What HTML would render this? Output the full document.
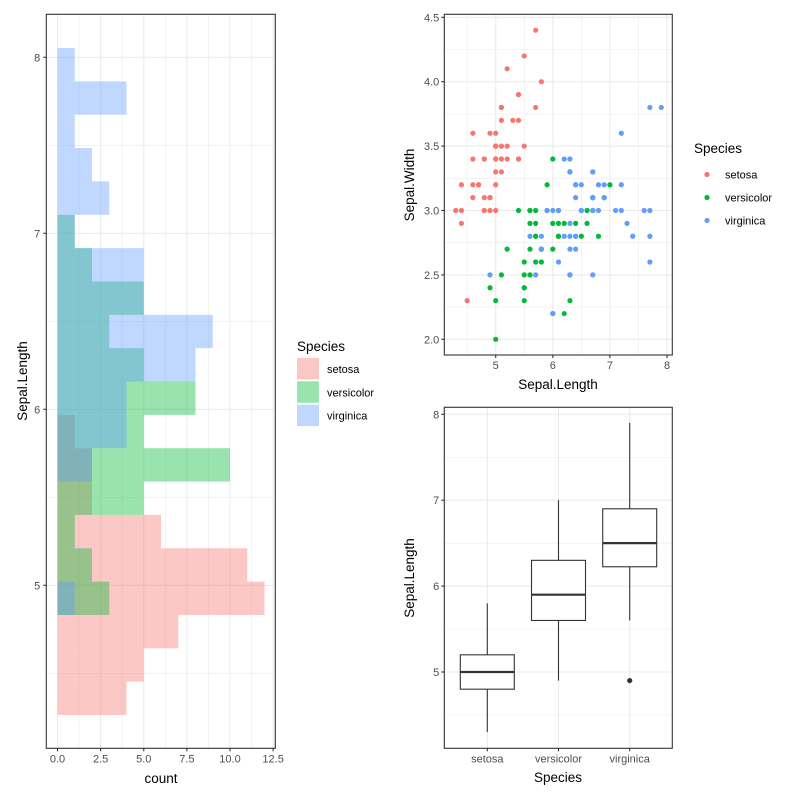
<!DOCTYPE html>
<html><head><meta charset="utf-8"><style>
html,body{margin:0;padding:0;background:#fff}
svg{display:block;font-family:"Liberation Sans",Arial,sans-serif}
</style></head><body>
<svg id="chart" width="800" height="800" viewBox="0 0 800 800" xmlns="http://www.w3.org/2000/svg"></svg>
<script>
const species = ["setosa","versicolor","virginica"];
const colors = ["#F8766D","#00BA38","#619CFF"];
const setosaSL = [5.1,4.9,4.7,4.6,5.0,5.4,4.6,5.0,4.4,4.9,5.4,4.8,4.8,4.3,5.8,5.7,5.4,5.1,5.7,5.1,5.4,5.1,4.6,5.1,4.8,5.0,5.0,5.2,5.2,4.7,4.8,5.4,5.2,5.5,4.9,5.0,5.5,4.9,4.4,5.1,5.0,4.5,4.4,5.0,5.1,4.8,5.1,4.6,5.3,5.0];
const setosaSW = [3.5,3.0,3.2,3.1,3.6,3.9,3.4,3.4,2.9,3.1,3.7,3.4,3.0,3.0,4.0,4.4,3.9,3.5,3.8,3.8,3.4,3.7,3.6,3.3,3.4,3.0,3.4,3.5,3.4,3.2,3.1,3.4,4.1,4.2,3.1,3.2,3.5,3.6,3.0,3.4,3.5,2.3,3.2,3.5,3.8,3.0,3.8,3.2,3.7,3.3];
const versiSL = [7.0,6.4,6.9,5.5,6.5,5.7,6.3,4.9,6.6,5.2,5.0,5.9,6.0,6.1,5.6,6.7,5.6,5.8,6.2,5.6,5.9,6.1,6.3,6.1,6.4,6.6,6.8,6.7,6.0,5.7,5.5,5.5,5.8,6.0,5.4,6.0,6.7,6.3,5.6,5.5,5.5,6.1,5.8,5.0,5.6,5.7,5.7,6.2,5.1,5.7];
const versiSW = [3.2,3.2,3.1,2.3,2.8,2.8,3.3,2.4,2.9,2.7,2.0,3.0,2.2,2.9,2.9,3.1,3.0,2.7,2.2,2.5,3.2,2.8,2.5,2.8,2.9,3.0,2.8,3.0,2.9,2.6,2.4,2.4,2.7,2.7,3.0,3.4,3.1,2.3,3.0,2.5,2.6,3.0,2.6,2.3,2.7,3.0,2.9,2.9,2.5,2.8];
const virgSL = [6.3,5.8,7.1,6.3,6.5,7.6,4.9,7.3,6.7,7.2,6.5,6.4,6.8,5.7,5.8,6.4,6.5,7.7,7.7,6.0,6.9,5.6,7.7,6.3,6.7,7.2,6.2,6.1,6.4,7.2,7.4,7.9,6.4,6.3,6.1,7.7,6.3,6.4,6.0,6.9,6.7,6.9,5.8,6.8,6.7,6.7,6.3,6.5,6.2,5.9];
const virgSW = [3.3,2.7,3.0,2.9,3.0,3.0,2.5,2.9,2.5,3.6,3.2,2.7,3.0,2.5,2.8,3.2,3.0,3.8,2.6,2.2,3.2,2.8,2.8,2.7,3.3,3.2,2.8,3.0,2.8,3.0,2.8,3.8,2.8,2.8,2.6,3.0,3.4,3.1,3.0,3.1,3.1,3.1,2.7,3.2,3.3,3.0,2.5,3.0,3.4,3.0];
const histXTicks = [0,2.5,5,7.5,10,12.5];
const histXTickLabels = ["0.0","2.5","5.0","7.5","10.0","12.5"];
const slTicks = [5,6,7,8];
const swTicks = [2.0,2.5,3.0,3.5,4.0,4.5];
const swTickLabels = ["2.0","2.5","3.0","3.5","4.0","4.5"];
const scXTicks = [5,6,7,8];
const histBins = 20;

const SL = [setosaSL, versiSL, virgSL];
const SW = [setosaSW, versiSW, virgSW];
const svg = document.getElementById('chart');
const NS = "http://www.w3.org/2000/svg";
function el(tag, attrs, parent, text){
  const e = document.createElementNS(NS, tag);
  for (const k in attrs) e.setAttribute(k, attrs[k]);
  if (text !== undefined) e.textContent = text;
  (parent||svg).appendChild(e);
  return e;
}
function lineV(g,x,y1,y2,c,w){ return el('line',{x1:x,x2:x,y1:y1,y2:y2,stroke:c,'stroke-width':w},g); }
function lineH(g,y,x1,x2,c,w){ return el('line',{x1:x1,x2:x2,y1:y,y2:y,stroke:c,'stroke-width':w},g); }
const GRID="#EBEBEB", AX="#333333", TXT="#4D4D4D";

// ===== Histogram =====
const allSL = [].concat(...SL);
const mn = Math.min(...allSL), mx = Math.max(...allSL);
const bw = (mx-mn)/(histBins-1);
const origin = bw/2 + Math.floor((mn - bw/2)/bw)*bw;
const edges = []; for (let k=0;k<=histBins;k++) edges.push(origin + k*bw);
const hx = v => 57.5 + v*17.25;
const hy = v => 585.3 - (v-5)*176;
const hL=46.3,hR=275.3,hT=14.3,hB=748.3;
const gH = el('g',{});  
for (let v=1.25; v<13; v+=2.5) lineV(gH,hx(v),hT,hB,GRID,0.6);
for (let v=4.5; v<8.3; v+=1) lineH(gH,hy(v),hL,hR,GRID,0.6);
histXTicks.forEach(v=>lineV(gH,hx(v),hT,hB,GRID,1.1));
slTicks.forEach(v=>lineH(gH,hy(v),hL,hR,GRID,1.1));
SL.forEach((arr,si)=>{
  for (let k=0;k<histBins;k++){
    const lo=edges[k], hi=edges[k+1];
    const c = arr.filter(v=> k===0 ? (v>=lo-1e-9 && v<=hi+1e-9) : (v>lo+1e-9 && v<=hi+1e-9)).length;
    if (!c) continue;
    const r = el('rect',{x:hx(0),y:hy(hi),width:hx(c)-hx(0),height:hy(lo)-hy(hi),fill:colors[si],'fill-opacity':0.4},gH);
    
    
  }
});
el('rect',{x:hL,y:hT,width:hR-hL,height:hB-hT,fill:'none',stroke:AX,'stroke-width':1.1},gH);
histXTicks.forEach((v,i)=>{ lineV(gH,hx(v),hB,hB+3,AX,1.1);
  el('text',{x:hx(v),y:hB+14,'text-anchor':'middle','font-size':11,fill:TXT},gH,histXTickLabels[i]); });
slTicks.forEach(v=>{ lineH(gH,hy(v),hL-3,hL,AX,1.1);
  el('text',{x:hL-6,y:hy(v)+4,'text-anchor':'end','font-size':11,fill:TXT},gH,String(v)); });
const t1=el('text',{x:161,y:783,'text-anchor':'middle','font-size':13.5,fill:'#000'},gH,'count');
 
const t2=el('text',{x:27,y:381,'text-anchor':'middle','font-size':13.5,fill:'#000',transform:'rotate(-90 27 381)'},gH,'Sepal.Length');
 
// legend left
const gL = el('g',{});  
el('text',{x:297,y:351,'font-size':13.5,fill:'#000'},gL,'Species');
species.forEach((s,i)=>{
  const y0 = 358 + i*23.3;
  el('rect',{x:297,y:y0,width:22,height:21.5,fill:colors[i],'fill-opacity':0.4},gL);
  el('text',{x:327,y:y0+15,'font-size':11,fill:'#000'},gL,s);
});

// ===== Scatter =====
const sx = v => 495.7 + (v-5)*57.1;
const sy = v => 339.3 - (v-2)*128.8;
const sL=444.3,sR=672.3,sT=14.3,sB=355;
const gS = el('g',{});  
for (let v=4.5; v<8.1; v+=1) lineV(gS,sx(v),sT,sB,GRID,0.6);
for (let v=2.25; v<4.5; v+=0.5) lineH(gS,sy(v),sL,sR,GRID,0.6);
scXTicks.forEach(v=>lineV(gS,sx(v),sT,sB,GRID,1.1));
swTicks.forEach(v=>lineH(gS,sy(v),sL,sR,GRID,1.1));
SL.forEach((arr,si)=>arr.forEach((v,j)=>{
  const c=el('circle',{cx:sx(v),cy:sy(SW[si][j]),r:2.6,fill:colors[si]},gS);
  
  
}));
el('rect',{x:sL,y:sT,width:sR-sL,height:sB-sT,fill:'none',stroke:AX,'stroke-width':1.1},gS);
scXTicks.forEach(v=>{ lineV(gS,sx(v),sB,sB+3,AX,1.1);
  el('text',{x:sx(v),y:sB+14,'text-anchor':'middle','font-size':11,fill:TXT},gS,String(v)); });
swTicks.forEach((v,i)=>{ lineH(gS,sy(v),sL-3,sL,AX,1.1);
  el('text',{x:sL-5,y:sy(v)+4,'text-anchor':'end','font-size':11,fill:TXT},gS,swTickLabels[i]); });
const t3=el('text',{x:558,y:389,'text-anchor':'middle','font-size':13.5,fill:'#000'},gS,'Sepal.Length');
 
const t4=el('text',{x:414,y:185,'text-anchor':'middle','font-size':13.5,fill:'#000',transform:'rotate(-90 414 185)'},gS,'Sepal.Width');
 
const gL2 = el('g',{});  
el('text',{x:694,y:153,'font-size':13.5,fill:'#000'},gL2,'Species');
species.forEach((s,i)=>{
  const y0 = 174.5 + i*23;
  el('circle',{cx:707,cy:y0,r:2.6,fill:colors[i]},gL2);
  el('text',{x:725,y:y0+4,'font-size':11,fill:'#000'},gL2,s);
});

// ===== Boxplot =====
const bx = i => 487.3 + i*71.2;
const by = v => 672 - (v-5)*85.9;
const bL=444.3,bR=672.3,bT=407.3,bB=748.3;
function q(a,p){ const s=[...a].sort((x,y)=>x-y); const h=(s.length-1)*p; const lo=Math.floor(h); return s[lo]+(h-lo)*((s[lo+1]??s[lo])-s[lo]); }
const gB = el('g',{});  
for (let v=4.5; v<8; v+=1) lineH(gB,by(v),bL,bR,GRID,0.6);
slTicks.forEach(v=>lineH(gB,by(v),bL,bR,GRID,1.1));
species.forEach((s,i)=>lineV(gB,bx(i),bT,bB,GRID,1.1));
SL.forEach((arr,i)=>{
  const q1=q(arr,0.25), md=q(arr,0.5), q3=q(arr,0.75), iqr=q3-q1;
  const inl = arr.filter(v=>v>=q1-1.5*iqr && v<=q3+1.5*iqr);
  const lo=Math.min(...inl), hi=Math.max(...inl);
  const g = el('g',{},gB);  
  const hw=27;
  lineV(g,bx(i),by(hi),by(q3),AX,1.1);
  lineV(g,bx(i),by(q1),by(lo),AX,1.1);
  el('rect',{x:bx(i)-hw,y:by(q3),width:2*hw,height:by(q1)-by(q3),fill:'#fff',stroke:AX,'stroke-width':1.1},g);
  lineH(g,by(md),bx(i)-hw,bx(i)+hw,AX,2.2);
  arr.filter(v=>v<lo||v>hi).forEach(v=>{
    const o=el('circle',{cx:bx(i),cy:by(v),r:2.6,fill:AX},g);
    
    
  });
});
el('rect',{x:bL,y:bT,width:bR-bL,height:bB-bT,fill:'none',stroke:AX,'stroke-width':1.1},gB);
species.forEach((s,i)=>{ lineV(gB,bx(i),bB,bB+3,AX,1.1);
  el('text',{x:bx(i),y:bB+14,'text-anchor':'middle','font-size':11,fill:TXT},gB,s); });
slTicks.forEach(v=>{ lineH(gB,by(v),bL-3,bL,AX,1.1);
  el('text',{x:bL-5,y:by(v)+4,'text-anchor':'end','font-size':11,fill:TXT},gB,String(v)); });
const t5=el('text',{x:558,y:782,'text-anchor':'middle','font-size':13.5,fill:'#000'},gB,'Species');
 
const t6=el('text',{x:414,y:578,'text-anchor':'middle','font-size':13.5,fill:'#000',transform:'rotate(-90 414 578)'},gB,'Sepal.Length');
 
</script>
</body></html>
